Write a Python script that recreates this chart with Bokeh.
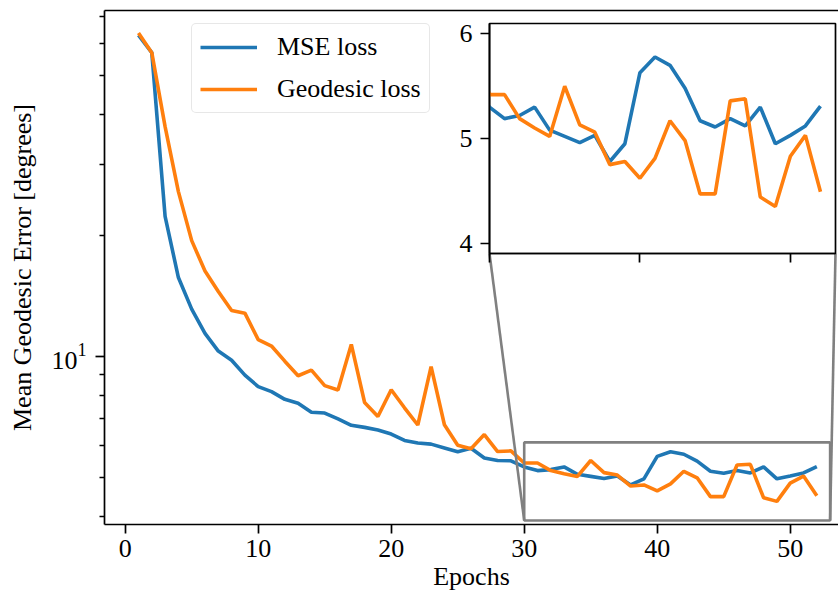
import math
from bokeh.plotting import figure
from bokeh.models import (Range1d, FixedTicker, LinearAxis, BoxAnnotation,
                          Legend, LegendItem)
from bokeh.embed import file_html
from bokeh.resources import INLINE

# ---------------- data ----------------
epochs = list(range(1, 53))
mse_loss = [63.0, 57.0, 22.3, 15.7, 13.1, 11.4, 10.3, 9.77, 8.97, 8.40,
            8.16, 7.81, 7.64, 7.25, 7.22, 6.98, 6.73, 6.65, 6.55, 6.40,
            6.17, 6.08, 6.04, 5.91, 5.78, 5.90, 5.58, 5.50, 5.49,
            5.30, 5.19, 5.22, 5.30, 5.08, 5.02, 4.96, 5.03, 4.78, 4.95,
            5.63, 5.78, 5.70, 5.48, 5.17, 5.11, 5.19, 5.12, 5.30, 4.95,
            5.03, 5.12, 5.31]
geodesic_loss = [63.8, 57.0, 37.3, 25.7, 19.4, 16.3, 14.5, 13.0, 12.8, 11.0,
                 10.6, 9.72, 8.94, 9.23, 8.45, 8.24, 10.7, 7.67, 7.08, 8.25,
                 7.44, 6.74, 9.42, 6.75, 6.00, 5.88, 6.38, 5.79, 5.81,
                 5.42, 5.42, 5.19, 5.10, 5.02, 5.50, 5.13, 5.06, 4.75, 4.78,
                 4.62, 4.81, 5.17, 4.98, 4.47, 4.47, 5.36, 5.38, 4.44, 4.35,
                 4.83, 5.03, 4.49]
series_labels = ["MSE loss", "Geodesic loss"]

main_x_ticks = [0, 10, 20, 30, 40, 50]
main_y_major = [10]
main_y_minor = [4, 5, 6, 7, 8, 9, 20, 30, 40, 50, 60, 70]
inset_x_ticks = [30, 40, 50]
inset_y_ticks = [4, 5, 6]

x_range_main = (-1.556, 53.63)
y_range_main = (3.81, 72.6)
zoom_x = (30, 53)
zoom_y = (3.9, 6.1)

# ---------------- style ----------------
BLUE = "#1f77b4"
ORANGE = "#ff7f0e"
GRAY = "#808080"
FONT = "Liberation Serif"
FS = "26px"
LW = 3.6
SPINE = 1.7

PAGE = 0
MAIN_BL, MAIN_BT, MAIN_FW, MAIN_FH = 104, 10, 734, 514
INSET_SL, INSET_ST, INSET_FW, INSET_FH = 489, 23, 346, 230
INSET_BL, INSET_BT, INSET_BR = 40, 15, 3


def style_axis(ax, label=None):
    ax.axis_line_width = SPINE
    ax.axis_line_color = "black"
    ax.major_tick_line_width = SPINE
    ax.major_tick_line_color = "black"
    ax.minor_tick_line_width = 1.3
    ax.minor_tick_line_color = "black"
    ax.major_tick_in = 0
    ax.major_tick_out = 9
    ax.minor_tick_in = 0
    ax.minor_tick_out = 5
    ax.major_label_text_font = FONT
    ax.major_label_text_font_size = FS
    ax.major_label_text_color = "black"
    if label is not None:
        ax.axis_label = label
        ax.axis_label_text_font = FONT
        ax.axis_label_text_font_size = FS
        ax.axis_label_text_font_style = "normal"
        ax.axis_label_text_color = "black"


# ---------------- main figure ----------------
p = figure(frame_width=MAIN_FW, frame_height=MAIN_FH,
           x_range=Range1d(*x_range_main), y_range=Range1d(*y_range_main),
           y_axis_type="log", output_backend="svg", toolbar_location=None,
           min_border_left=MAIN_BL, min_border_top=MAIN_BT,
           min_border_right=0, min_border_bottom=0)
p.outline_line_color = None
p.grid.visible = False
p.background_fill_color = "white"
p.border_fill_color = "white"

style_axis(p.xaxis[0], "Epochs")
p.xaxis.ticker = FixedTicker(ticks=main_x_ticks)
p.xaxis.minor_tick_line_color = None
p.xaxis.major_label_standoff = 6
p.xaxis.axis_label_standoff = 2

style_axis(p.yaxis[0], "Mean Geodesic Error [degrees]")
p.yaxis.ticker = FixedTicker(ticks=main_y_major, minor_ticks=main_y_minor)
p.yaxis.major_label_standoff = 9
p.yaxis.axis_label_standoff = 11

top_spine = LinearAxis(ticker=FixedTicker(ticks=[]), axis_line_width=SPINE,
                       axis_line_color="black", major_tick_in=0,
                       major_tick_out=0, minor_tick_in=0, minor_tick_out=0,
                       major_label_standoff=0)
p.add_layout(top_spine, "above")

r_mse = p.line(epochs, mse_loss, line_color=BLUE, line_width=LW)
r_geo = p.line(epochs, geodesic_loss, line_color=ORANGE, line_width=LW)

# zoom box
p.add_layout(BoxAnnotation(left=zoom_x[0], right=zoom_x[1],
                           bottom=zoom_y[0], top=zoom_y[1],
                           fill_color=None, fill_alpha=0,
                           line_color=GRAY, line_alpha=1, line_width=2.6))

# connectors from zoom box to inset corners (inset position mapped to data)
mx0, mx1 = x_range_main
ly0, ly1 = math.log10(y_range_main[0]), math.log10(y_range_main[1])
main_sx0 = PAGE + MAIN_BL
main_sy0 = PAGE + MAIN_BT


def sx_to_x(sx):
    return mx0 + (sx - main_sx0) / MAIN_FW * (mx1 - mx0)


def sy_to_y(sy):
    return 10 ** (ly1 - (sy - main_sy0) / MAIN_FH * (ly1 - ly0))


inset_bottom = INSET_ST + INSET_FH
p.segment(x0=[zoom_x[0], zoom_x[1]], y0=[zoom_y[0], zoom_y[0]],
          x1=[sx_to_x(INSET_SL), sx_to_x(INSET_SL + INSET_FW)],
          y1=[sy_to_y(inset_bottom), sy_to_y(inset_bottom)],
          line_color=GRAY, line_width=2.6)

legend = Legend(items=[LegendItem(label=series_labels[0], renderers=[r_mse]),
                       LegendItem(label=series_labels[1], renderers=[r_geo])],
                location=(87, MAIN_FH - 18 - 85))
legend.label_text_font = FONT
legend.label_text_font_size = FS
legend.label_text_color = "black"
legend.glyph_width = 57
legend.glyph_height = 26
legend.label_height = 26
legend.label_standoff = 20
legend.spacing = 12
legend.padding = 8
legend.margin = 0
legend.border_line_color = "#d0d0d0"
legend.border_line_width = 1.6
legend.background_fill_alpha = 0.8
if "border_radius" in Legend.properties():
    legend.border_radius = 5
p.add_layout(legend)

# ---------------- inset figure ----------------
inset = figure(frame_width=INSET_FW, frame_height=INSET_FH,
               x_range=Range1d(*zoom_x), y_range=Range1d(*zoom_y),
               output_backend="svg", toolbar_location=None,
               min_border_left=INSET_BL, min_border_top=INSET_BT,
               min_border_right=INSET_BR, min_border_bottom=12,
               border_fill_alpha=0,
               styles={"position": "absolute",
                       "left": f"{INSET_SL - INSET_BL}px",
                       "top": f"{INSET_ST - INSET_BT}px"})
inset.grid.visible = False
inset.outline_line_color = "black"
inset.outline_line_width = SPINE
inset.outline_line_alpha = 1
inset.background_fill_color = "white"

style_axis(inset.xaxis[0])
inset.xaxis.ticker = FixedTicker(ticks=inset_x_ticks)
inset.xaxis.minor_tick_line_color = None
inset.xaxis.major_label_overrides = {t: "" for t in inset_x_ticks}
inset.xaxis.major_label_standoff = 0

style_axis(inset.yaxis[0])
inset.yaxis.ticker = FixedTicker(ticks=inset_y_ticks)
inset.yaxis.minor_tick_line_color = None
inset.yaxis.major_label_standoff = 8

inset.line(epochs, mse_loss, line_color=BLUE, line_width=LW)
inset.line(epochs, geodesic_loss, line_color=ORANGE, line_width=LW)

open("out.html", "w").write(file_html([p, inset], INLINE))
